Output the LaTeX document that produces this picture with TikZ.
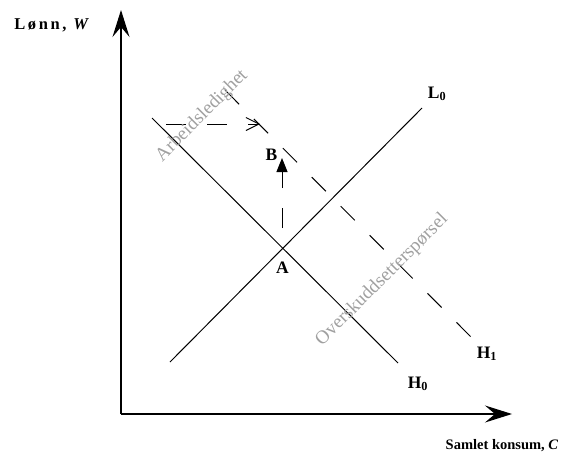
\documentclass[tikz,border=0pt]{standalone}
\usepackage{fontspec}
\setmainfont{Liberation Serif}
\usepackage{tikz}
\usetikzlibrary{arrows.meta}
\definecolor{markgray}{HTML}{A0A0A0}

\begin{document}
\begin{tikzpicture}[x=1pt,y=-1pt]

\tikzset{
axisline/.style={
line width=1.1pt,
-{Stealth[length=27pt,width=17pt,inset=10pt]}
},
curveline/.style={
line width=1pt
},
shiftline/.style={
line width=1pt,
dash pattern=on 20pt off 21pt
},
curvelabel/.style={
anchor=base,
font=\fontsize{17.5}{17.5}\selectfont\bfseries
},
axislabel/.style={
anchor=base,
font=\fontsize{14.5}{14.5}\selectfont\bfseries
},
marklabel/.style={
text=markgray,
rotate=45,
font=\fontsize{19}{19}\selectfont
}
}

\useasboundingbox (0,0) rectangle (563,461);

%--------------------------------------------------
% AXES
%--------------------------------------------------

\coordinate (origin) at (121,414);
\coordinate (wtip) at (121,10);
\coordinate (ctip) at (512,414);

\draw[axisline] (origin) -- (wtip);
\draw[axisline] (origin) -- (ctip);

\node[axislabel,font=\fontsize{16.5}{16.5}\selectfont\bfseries\addfontfeature{LetterSpace=16}]
(wlabel) at (53,29) {Lønn, \textit{W}};
\node[axislabel] (clabel) at (502,449) {Samlet konsum, \textit{C}};

%--------------------------------------------------
% CURVES
%--------------------------------------------------

\coordinate (h0top) at (152,118);
\coordinate (h0end) at (398,363);
\coordinate (l0low) at (170,362);
\coordinate (l0top) at (422,108);
\coordinate (h1top) at (225,90);
\coordinate (h1end) at (471,337);

\draw[curveline] (h0top) -- (h0end);
\draw[curveline] (l0low) -- (l0top);
\draw[shiftline] (h1top) -- (h1end);

\node[curvelabel] (l0label) at (437,98) {L\textsubscript{0}};
\node[curvelabel] (h0label) at (418,388) {H\textsubscript{0}};
\node[curvelabel] (h1label) at (487,358) {H\textsubscript{1}};

%--------------------------------------------------
% POINTS AND SHIFTS
%--------------------------------------------------

\coordinate (pointa) at (282,248);
\coordinate (pointb) at (282,158);
\coordinate (wagestart) at (166,124);
\coordinate (wageend) at (260,124);

\node[curvelabel] (alabel) at (282.5,273) {A};
\node[curvelabel] (blabel) at (271.5,160) {B};

\draw[curveline,dash pattern=on 20pt off 20pt,dash phase=20pt,
-{Triangle[length=14pt,width=11pt]}] (pointa) -- (pointb);
\draw[shiftline,-{Straight Barb[length=13pt,width=13pt]}] (wagestart) -- (wageend);

\node[marklabel] (unemploy) at (202,116) {Arbeidsledighet};
\node[marklabel] (surplus) at (382,280) {Overskuddsetterspørsel};

\end{tikzpicture}
\end{document}
